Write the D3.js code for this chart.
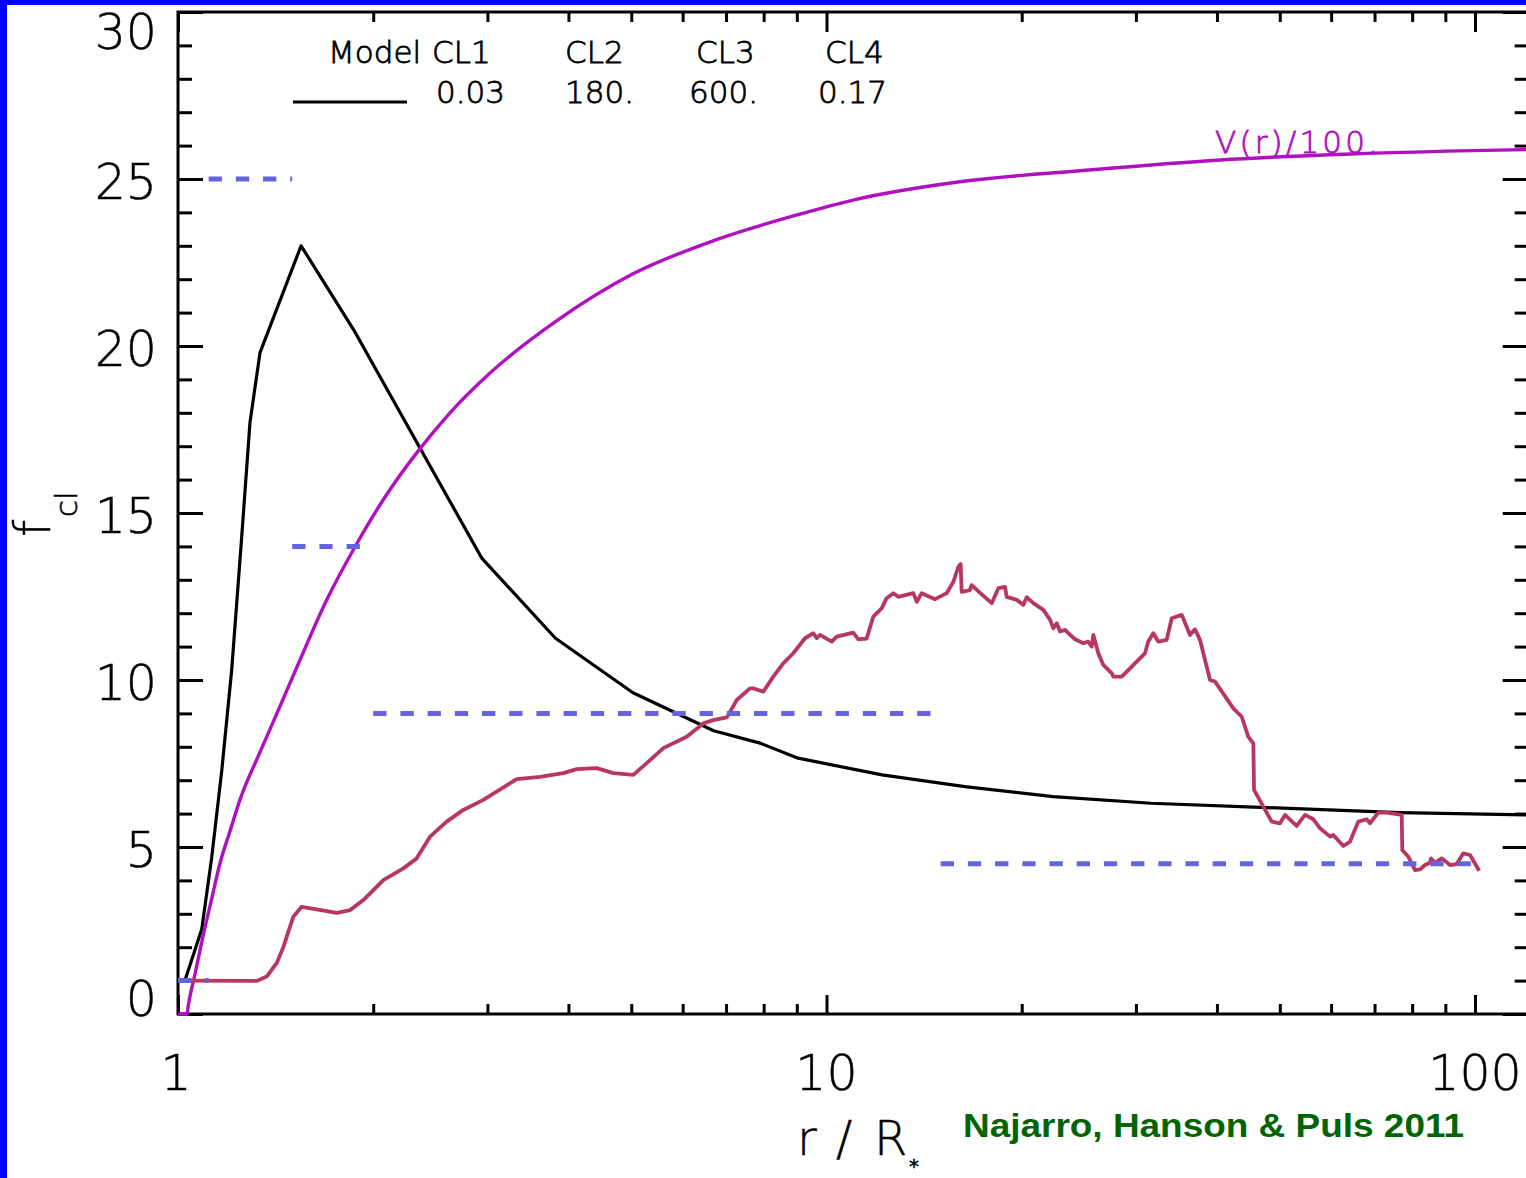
<!DOCTYPE html>
<html>
<head>
<meta charset="utf-8">
<script src="https://cdn.jsdelivr.net/npm/d3@7"></script>
<style>
  html, body { margin: 0; padding: 0; background: #0000ff; }
  svg { display: block; }
</style>
</head>
<body>
<svg id="chart" width="1526" height="1178"></svg>
<script>
// ---- Model clumping law f_cl(r) (black) ----
const modelR = [1.025, 1.088, 1.127, 1.168, 1.21, 1.254, 1.291, 1.338, 1.548, 1.864, 2.94, 3.82,
                5.03, 6.70, 7.90, 9.04, 12.18, 16.35, 22.36, 31.65, 47.74, 76.6, 121];
const modelF = [1.0, 2.54, 4.68, 7.28, 10.3, 14.3, 17.7, 19.8, 23.0, 20.5, 13.65, 11.25,
                9.62, 8.48, 8.11, 7.66, 7.16, 6.81, 6.51, 6.31, 6.18, 6.03, 5.96];

// ---- Velocity law V(r)/100 (magenta) ----
const velR = [1.0, 1.0325, 1.037, 1.062, 1.094, 1.127, 1.161, 1.203, 1.246, 1.338, 1.437, 1.542,
              1.696, 1.875, 2.086, 2.334, 2.627, 3.028, 3.815, 5.031, 6.731, 9.104, 10.99,
              15.95, 25.40, 40.45, 64.39, 121];
const velV = [0, 0, 0.24, 1.19, 2.37, 3.45, 4.52, 5.48, 6.41, 7.84, 9.22, 10.60,
              12.40, 13.99, 15.48, 16.80, 18.0, 19.19, 20.72, 22.16, 23.17, 23.95, 24.37,
              24.91, 25.27, 25.57, 25.75, 25.88];

// ---- Empirical clumping factor (crimson) ----
const obsR = [1.0, 1.322, 1.370, 1.420, 1.454, 1.488, 1.506, 1.551, 1.636, 1.757,
  1.842, 1.931, 2.073, 2.226, 2.334, 2.447, 2.596, 2.754, 2.957, 3.100,
  3.329, 3.616, 3.928, 4.120, 4.422, 4.693, 5.036, 5.281, 5.603, 6.087,
  6.457, 6.690, 7.019, 7.272, 7.621, 7.711, 7.989, 8.279, 8.578, 8.887,
  9.266, 9.544, 9.659, 9.772, 10.19, 10.37, 11.00, 11.19, 11.53, 11.81,
  12.17, 12.38, 12.68, 12.90, 13.61, 13.78, 14.02, 14.70, 15.32, 15.69,
  15.97, 16.10, 16.16, 16.64, 16.74, 17.25, 17.98, 18.41, 18.85, 18.96,
  19.65, 20.11, 20.36, 20.84, 21.60, 22.12, 22.38, 22.65, 22.92, 23.33,
  23.75, 24.17, 24.89, 25.33, 25.64, 25.79, 26.25, 26.72, 27.54, 27.69,
  28.53, 29.56, 30.62, 30.98, 31.35, 31.91, 32.48, 33.46, 34.07, 35.30,
  36.35, 37.00, 37.67, 39.03, 39.73, 42.40, 43.68, 44.72, 45.52, 45.63,
  47.16, 48.59, 50.04, 50.94, 53.09, 54.69, 56.33, 57.68, 59.77, 60.47,
  62.65, 64.15, 66.07, 68.08, 68.88, 70.94, 73.08, 77.09, 77.25, 78.92,
  80.81, 82.26, 83.73, 85.23, 85.53, 86.76, 88.84, 91.52, 93.71, 95.94,
  98.25, 101.5];
const obsF = [1.0, 0.99, 1.12, 1.53, 2.01, 2.61, 2.91, 3.21, 3.13, 3.03,
  3.11, 3.41, 4.01, 4.36, 4.66, 5.31, 5.76, 6.11, 6.41, 6.66,
  7.03, 7.10, 7.21, 7.33, 7.36, 7.21, 7.16, 7.51, 7.96, 8.30,
  8.70, 8.80, 8.88, 9.40, 9.75, 9.75, 9.65, 10.10, 10.50, 10.80,
  11.25, 11.40, 11.25, 11.35, 11.15, 11.30, 11.42, 11.22, 11.24, 11.90,
  12.15, 12.45, 12.60, 12.49, 12.60, 12.34, 12.60, 12.42, 12.60, 12.94,
  13.39, 13.47, 12.64, 12.69, 12.84, 12.61, 12.30, 12.75, 12.79, 12.49,
  12.40, 12.25, 12.48, 12.30, 12.10, 11.80, 11.55, 11.70, 11.45, 11.50,
  11.35, 11.22, 11.10, 11.15, 11.00, 11.35, 10.80, 10.45, 10.20, 10.10,
  10.10, 10.40, 10.70, 10.80, 11.15, 11.40, 11.15, 11.20, 11.85, 11.95,
  11.35, 11.52, 11.20, 10.00, 9.95, 9.15, 8.90, 8.30, 8.10, 6.71,
  6.21, 5.76, 5.71, 5.96, 5.63, 5.96, 5.83, 5.56, 5.31, 5.36,
  5.03, 5.16, 5.76, 5.83, 5.71, 6.03, 6.03, 5.96, 4.91, 4.71,
  4.31, 4.33, 4.46, 4.53, 4.66, 4.53, 4.66, 4.46, 4.49, 4.81,
  4.76, 4.29];

// ---- Step-wise clumping regions (dashed) ----
const clStart = [1.0, 1.115, 1.5, 2, 15];
const clEnd   = [1.115, 1.5, 2, 15, 100];
const clValue = [1, 25, 14, 9, 4.5];

// ---- Axes & legend text ----
const yMajor = [0, 5, 10, 15, 20, 25, 30];
const yMinor = d3.range(0, 31).filter(v => v % 5 !== 0);
const xMajor = [1, 10, 100];
const xMinor = [2, 3, 4, 5, 6, 7, 8, 9, 20, 30, 40, 50, 60, 70, 80, 90];
const xLabels = ["1", "10", "100"];
const legendHead = ["Model", "CL1", "CL2", "CL3", "CL4"];
const legendVals = ["0.03", "180.", "600.", "0.17"];

const W = 1526, H = 1178;
const svg = d3.select("#chart");
const LIGHT = "'DejaVu Sans', 'Liberation Sans', sans-serif";

// white page panel inside the blue slide background
svg.append("rect").attr("x", 7).attr("y", 5).attr("width", W - 7).attr("height", H - 5).attr("fill", "#ffffff");

const plotLeft = 178, plotTop = 12, plotBottom = 1014, decade = 648.5;
const xMax = 121;
const x = d3.scaleLog().domain([1, xMax]).range([plotLeft, plotLeft + decade * Math.log10(xMax)]);
const y = d3.scaleLinear().domain([0, 30]).range([plotBottom, plotTop]);
const plotRight = x(xMax);

// ---- Frame and ticks ----
const axes = svg.append("g").attr("class", "axes");
function tickAxis(axisFn, scale, vals, size, transform) {
  const g = axes.append("g").attr("transform", transform)
    .call(axisFn(scale).tickValues(vals).tickSize(size).tickSizeOuter(0).tickFormat(""));
  g.select(".domain").remove();
  g.selectAll(".tick line").attr("stroke", "#000").attr("stroke-width", 3);
}
tickAxis(d3.axisRight, y, yMajor, 25, `translate(${plotLeft},0)`);
tickAxis(d3.axisRight, y, yMinor, 14, `translate(${plotLeft},0)`);
tickAxis(d3.axisLeft, y, yMajor, 26, `translate(${plotRight},0)`);
tickAxis(d3.axisLeft, y, yMinor, 14, `translate(${plotRight},0)`);
tickAxis(d3.axisTop, x, xMajor, 19, `translate(0,${plotBottom})`);
tickAxis(d3.axisTop, x, xMinor, 10, `translate(0,${plotBottom})`);
tickAxis(d3.axisBottom, x, xMajor, 20, `translate(0,${plotTop})`);
tickAxis(d3.axisBottom, x, xMinor, 10, `translate(0,${plotTop})`);

axes.append("rect")
  .attr("x", plotLeft).attr("y", plotTop)
  .attr("width", plotRight - plotLeft).attr("height", plotBottom - plotTop)
  .attr("fill", "none").attr("stroke", "#000").attr("stroke-width", 3);

// ---- Tick labels (thin face, slightly thickened with an outline) ----
const labels = svg.append("g").attr("font-family", LIGHT).attr("font-weight", 200)
  .attr("font-size", 49).attr("fill", "#000")
  .attr("stroke", "#000").attr("stroke-width", 0.5);
labels.selectAll("text.ylab").data(yMajor).join("text")
  .attr("class", "ylab")
  .attr("x", 157)
  .attr("y", v => y(v) + (v === 30 ? 37 : v === 0 ? 2 : 20))
  .attr("text-anchor", "end")
  .text(v => String(v));
labels.selectAll("text.xlab").data(xMajor).join("text")
  .attr("class", "xlab")
  .attr("x", (v, i) => x(v) - (i === 0 ? 2 : 0))
  .attr("y", 1090)
  .attr("text-anchor", "middle")
  .text((v, i) => xLabels[i]);

// axis titles: r/R with a starred subscript
labels.append("text").attr("x", "797 836 874").attr("y", 1155).attr("font-size", 48)
  .text("r/R");
labels.append("text").attr("x", 909).attr("y", 1173).attr("font-size", 20)
  .attr("font-weight", 400).text("*");
labels.append("text").attr("transform", "translate(50,537) rotate(-90)")
  .attr("font-size", 49).text("f");
labels.append("text").attr("transform", "translate(77,517) rotate(-90)")
  .attr("font-size", 31).attr("stroke-width", 0.6).text("cl");

// ---- Curves ----
const lineOf = (xs, ys, curve) => d3.line()
  .x((d, i) => x(xs[i])).y((d, i) => y(ys[i])).curve(curve)(xs);

svg.append("path").attr("d", lineOf(modelR, modelF, d3.curveLinear))
  .attr("fill", "none").attr("stroke", "#000").attr("stroke-width", 3.2)
  .attr("stroke-linejoin", "round");
svg.append("path").attr("d", lineOf(velR, velV, d3.curveMonotoneX))
  .attr("fill", "none").attr("stroke", "#b010c0").attr("stroke-width", 3.4)
  .attr("stroke-linejoin", "round");
svg.append("path").attr("d", lineOf(obsR, obsF, d3.curveLinear))
  .attr("fill", "none").attr("stroke", "#b8375f").attr("stroke-width", 3.8)
  .attr("stroke-linejoin", "round");

// dashed clumping steps
svg.append("g").selectAll("line").data(clValue).join("line")
  .attr("x1", (v, i) => x(clStart[i])).attr("x2", (v, i) => x(clEnd[i]))
  .attr("y1", v => y(v)).attr("y2", v => y(v))
  .attr("stroke", "#6464e0").attr("stroke-width", 5)
  .attr("stroke-dasharray", "13.3,13.9");

// ---- Legend ----
const leg = svg.append("g").attr("font-family", LIGHT).attr("font-weight", 200)
  .attr("font-size", 31).attr("fill", "#000")
  .attr("stroke", "#000").attr("stroke-width", 0.8);
const headX = [328, 432, 565, 696, 825];
const valX = [436, 565, 689, 818];
leg.selectAll("text.h").data(legendHead).join("text").attr("class", "h")
  .attr("x", (d, i) => headX[i]).attr("y", 63).text(d => d);
leg.selectAll("text.v").data(legendVals).join("text").attr("class", "v")
  .attr("x", (d, i) => valX[i]).attr("y", 103).text(d => d);
leg.append("line").attr("x1", 293).attr("x2", 407).attr("y1", 102).attr("y2", 102)
  .attr("stroke", "#000").attr("stroke-width", 3);

svg.append("text").attr("x", 1215).attr("y", 153)
  .attr("font-family", LIGHT).attr("font-weight", 200).attr("font-size", 31)
  .attr("fill", "#b010c0").attr("stroke", "#b010c0").attr("stroke-width", 0.8)
  .attr("textLength", 163).attr("lengthAdjust", "spacing")
  .text("V(r)/100.");

svg.append("text").attr("x", 963).attr("y", 1137)
  .attr("font-family", "'Liberation Sans', Arial, sans-serif").attr("font-weight", 700)
  .attr("font-size", 34).attr("fill", "#006400")
  .attr("textLength", 501).attr("lengthAdjust", "spacingAndGlyphs")
  .text("Najarro, Hanson & Puls 2011");
</script>
</body>
</html>
